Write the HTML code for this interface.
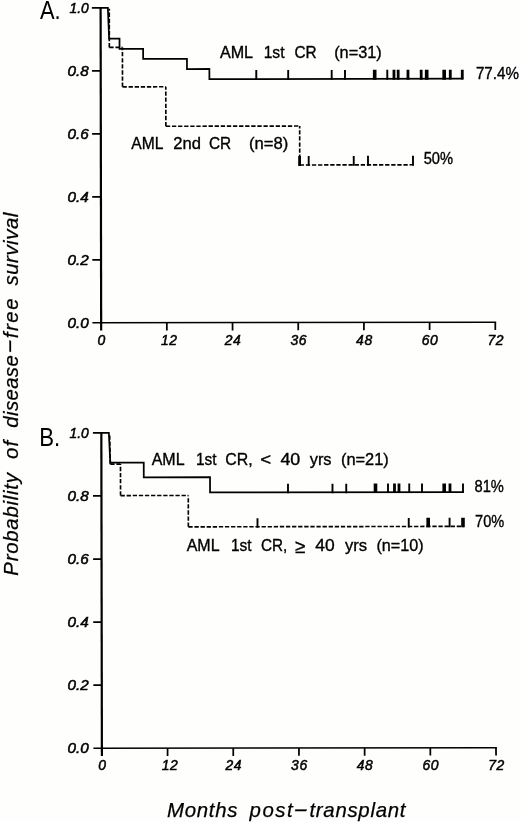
<!DOCTYPE html>
<html lang="en"><head><meta charset="utf-8"><title>Disease-free survival</title>
<style>
html,body{margin:0;padding:0;background:#fefefc;}
body{width:520px;height:822px;overflow:hidden;}
svg{display:block;}
text{font-family:"Liberation Sans",sans-serif;fill:#000;}
.tk{font-style:italic;font-size:13.9px;stroke:#000;stroke-width:0.5px;}
.xl{letter-spacing:0.6px;}
.lb{font-size:16.4px;stroke:#000;stroke-width:0.35px;}
.lB{font-size:16.6px;}
.pc{font-size:16.6px;}
.ttl{font-style:italic;font-size:20.4px;stroke:#000;stroke-width:0.25px;}
.pn{font-size:25.4px;}
path{fill:none;stroke:#000;stroke-linejoin:miter;}
.ln{stroke-width:1.75;}
.xa{stroke-width:1.5;}
.ds{stroke-width:1.65;stroke-dasharray:4.3 1.8;}
.ax{stroke-width:2.2;}
.t1{stroke-width:1.9;}
.t2{stroke-width:3.6;}
.t3{stroke-width:2.8;}
</style></head><body>
<svg width="520" height="822" viewBox="0 0 520 822">
<rect width="520" height="822" fill="#fefefc"/>

<path class="ax" d="M100.61 7.05L101.16 330.40"/>
<path class="xa" d="M92.40 322.81L496.15 322.13"/>
<path class="ln" d="M91.86 7.86L100.61 7.85"/>
<text class="tk" y="12.89"><tspan x="69.50" textLength="19.20" lengthAdjust="spacingAndGlyphs">1.0</tspan></text>
<path class="ln" d="M91.97 70.85L100.72 70.84"/>
<text class="tk" y="75.88"><tspan x="67.50" textLength="21.20" lengthAdjust="spacingAndGlyphs">0.8</tspan></text>
<path class="ln" d="M92.08 133.84L100.83 133.83"/>
<text class="tk" y="138.87"><tspan x="67.50" textLength="21.20" lengthAdjust="spacingAndGlyphs">0.6</tspan></text>
<path class="ln" d="M92.19 196.83L100.94 196.82"/>
<text class="tk" y="201.86"><tspan x="67.50" textLength="21.20" lengthAdjust="spacingAndGlyphs">0.4</tspan></text>
<path class="ln" d="M92.29 259.82L101.04 259.81"/>
<text class="tk" y="264.85"><tspan x="67.50" textLength="21.20" lengthAdjust="spacingAndGlyphs">0.2</tspan></text>
<text class="tk" y="327.84"><tspan x="67.50" textLength="21.20" lengthAdjust="spacingAndGlyphs">0.0</tspan></text>
<path class="ln" d="M166.84 322.69L166.85 330.49"/>
<path class="ln" d="M232.53 322.58L232.55 330.38"/>
<path class="ln" d="M298.23 322.46L298.24 330.26"/>
<path class="ln" d="M363.92 322.35L363.93 330.15"/>
<path class="ln" d="M429.61 322.24L429.62 330.04"/>
<path class="ln" d="M495.30 322.13L495.31 329.93"/>
<text class="tk xl" x="101.65" y="345.40" text-anchor="middle">0</text>
<text class="tk xl" x="169.34" y="345.29" text-anchor="middle">12</text>
<text class="tk xl" x="233.03" y="345.18" text-anchor="middle">24</text>
<text class="tk xl" x="298.73" y="345.06" text-anchor="middle">36</text>
<text class="tk xl" x="364.42" y="344.95" text-anchor="middle">48</text>
<text class="tk xl" x="430.11" y="344.84" text-anchor="middle">60</text>
<text class="tk xl" x="495.80" y="344.73" text-anchor="middle">72</text>
<text class="pn" x="40.0" y="19.4" textLength="20.7" lengthAdjust="spacingAndGlyphs">A.</text>
<path class="ln" d="M100.61 7.85L107.86 7.84L109.12 38.66L119.52 38.65L119.53 48.81L143.13 48.77L143.15 58.93L186.95 58.85L186.97 69.01L209.37 68.97L209.39 79.13L463.19 78.70"/>
<path class="t1" d="M256.28 70.05L256.30 79.95"/>
<path class="t1" d="M288.18 70.00L288.20 79.90"/>
<path class="t1" d="M331.68 69.93L331.70 79.83"/>
<path class="t1" d="M344.98 69.90L345.00 79.80"/>
<path class="t2" d="M374.68 69.85L374.70 79.75"/>
<path class="t1" d="M387.28 69.83L387.30 79.73"/>
<path class="t3" d="M393.98 69.82L394.00 79.72"/>
<path class="t3" d="M398.18 69.81L398.20 79.71"/>
<path class="t3" d="M407.98 69.80L408.00 79.70"/>
<path class="t3" d="M421.18 69.77L421.20 79.67"/>
<path class="t2" d="M426.68 69.76L426.70 79.66"/>
<path class="t2" d="M444.18 69.73L444.20 79.63"/>
<path class="t3" d="M450.28 69.72L450.30 79.62"/>
<path class="t3" d="M462.28 69.70L462.30 79.60"/>
<path class="ds" d="M109.33 47.40L109.27 8.84" stroke-dasharray="9.5 1.9 4.1 1.9 4.1 1.9 4.1 1.9 4.1 1.9 4.1 1.9 4.1 1.9 4.1 1.9"/>
<path class="ds" d="M109.33 47.40L122.43 47.38"/>
<path class="ds" d="M122.50 86.85L122.43 47.38" stroke-dasharray="9.5 1.9 4.1 1.9 4.1 1.9 4.1 1.9 4.1 1.9 4.1 1.9 4.1 1.9 4.1 1.9"/>
<path class="ds" d="M122.50 86.85L165.80 86.78"/>
<path class="ds" d="M165.87 126.27L165.80 86.78" stroke-dasharray="9.5 1.9 4.1 1.9 4.1 1.9 4.1 1.9 4.1 1.9 4.1 1.9 4.1 1.9 4.1 1.9"/>
<path class="ds" d="M165.87 126.27L299.67 126.04"/>
<path class="ds" d="M299.73 164.99L299.67 126.04" stroke-dasharray="9.5 1.9 4.1 1.9 4.1 1.9 4.1 1.9 4.1 1.9 4.1 1.9 4.1 1.9 4.1 1.9"/>
<path class="ds" d="M299.73 164.99L413.53 164.79"/>
<path class="t3" d="M299.58 155.99L299.60 165.89"/>
<path class="t1" d="M308.68 155.97L308.70 165.87"/>
<path class="t1" d="M353.73 155.90L353.75 165.80"/>
<path class="t1" d="M367.98 155.87L368.00 165.77"/>
<path class="t1" d="M412.98 155.79L413.00 165.69"/>
<text class="lb" y="57.9"><tspan x="219.90" textLength="32.60" lengthAdjust="spacingAndGlyphs">AML</tspan> <tspan x="263.70" textLength="20.80" lengthAdjust="spacingAndGlyphs">1st</tspan> <tspan x="294.40" textLength="22.20" lengthAdjust="spacingAndGlyphs">CR</tspan> <tspan x="334.20" textLength="47.60" lengthAdjust="spacingAndGlyphs">(n=31)</tspan></text>
<text class="lb pc" y="79.1"><tspan x="475.90" textLength="43.00" lengthAdjust="spacingAndGlyphs">77.4%</tspan></text>
<text class="lb" y="148.9"><tspan x="131.30" textLength="31.50" lengthAdjust="spacingAndGlyphs">AML</tspan> <tspan x="173.20" textLength="27.70" lengthAdjust="spacingAndGlyphs">2nd</tspan> <tspan x="208.90" textLength="22.20" lengthAdjust="spacingAndGlyphs">CR</tspan> <tspan x="249.00" textLength="39.30" lengthAdjust="spacingAndGlyphs">(n=8)</tspan></text>
<text class="lb pc" y="164.2"><tspan x="423.70" font-size="15.6" textLength="29.40" lengthAdjust="spacingAndGlyphs">50%</tspan></text>
<path class="ax" d="M101.34 432.00L101.89 755.90"/>
<path class="xa" d="M93.42 748.31L496.87 747.63"/>
<path class="ln" d="M92.89 432.81L101.34 432.80"/>
<text class="tk" y="437.84"><tspan x="69.50" textLength="19.20" lengthAdjust="spacingAndGlyphs">1.0</tspan></text>
<path class="ln" d="M92.99 495.91L101.44 495.90"/>
<text class="tk" y="500.94"><tspan x="67.50" textLength="21.20" lengthAdjust="spacingAndGlyphs">0.8</tspan></text>
<path class="ln" d="M93.10 559.01L101.55 559.00"/>
<text class="tk" y="564.04"><tspan x="67.50" textLength="21.20" lengthAdjust="spacingAndGlyphs">0.6</tspan></text>
<path class="ln" d="M93.21 622.11L101.66 622.10"/>
<text class="tk" y="627.14"><tspan x="67.50" textLength="21.20" lengthAdjust="spacingAndGlyphs">0.4</tspan></text>
<path class="ln" d="M93.32 685.21L101.77 685.20"/>
<text class="tk" y="690.24"><tspan x="67.50" textLength="21.20" lengthAdjust="spacingAndGlyphs">0.2</tspan></text>
<text class="tk" y="753.34"><tspan x="67.50" textLength="21.20" lengthAdjust="spacingAndGlyphs">0.0</tspan></text>
<path class="ln" d="M167.57 748.19L167.58 755.99"/>
<path class="ln" d="M233.26 748.08L233.27 755.88"/>
<path class="ln" d="M298.95 747.96L298.96 755.76"/>
<path class="ln" d="M364.64 747.85L364.65 755.65"/>
<path class="ln" d="M430.33 747.74L430.34 755.54"/>
<path class="ln" d="M496.02 747.63L496.04 755.43"/>
<text class="tk xl" x="102.37" y="770.30" text-anchor="middle">0</text>
<text class="tk xl" x="170.07" y="770.19" text-anchor="middle">12</text>
<text class="tk xl" x="233.76" y="770.08" text-anchor="middle">24</text>
<text class="tk xl" x="299.45" y="769.96" text-anchor="middle">36</text>
<text class="tk xl" x="365.14" y="769.85" text-anchor="middle">48</text>
<text class="tk xl" x="430.83" y="769.74" text-anchor="middle">60</text>
<text class="tk xl" x="496.52" y="769.63" text-anchor="middle">72</text>
<text class="pn" x="39.2" y="445.5" textLength="21.0" lengthAdjust="spacingAndGlyphs">B.</text>
<path class="ln" d="M101.34 432.80L108.84 432.79L110.29 462.68L143.74 462.63L143.76 477.30L210.01 477.19L210.04 492.46L463.89 492.03"/>
<path class="t1" d="M287.99 483.73L288.00 493.23"/>
<path class="t1" d="M332.49 483.65L332.50 493.15"/>
<path class="t1" d="M346.24 483.63L346.25 493.13"/>
<path class="t2" d="M375.49 483.58L375.50 493.08"/>
<path class="t1" d="M387.99 483.56L388.00 493.06"/>
<path class="t3" d="M394.49 483.55L394.50 493.05"/>
<path class="t3" d="M398.99 483.54L399.00 493.04"/>
<path class="t1" d="M409.24 483.52L409.25 493.02"/>
<path class="t1" d="M421.99 483.50L422.00 493.00"/>
<path class="t2" d="M444.19 483.46L444.20 492.96"/>
<path class="t3" d="M449.99 483.45L450.00 492.95"/>
<path class="t1" d="M462.99 483.43L463.00 492.93"/>
<path class="ds" d="M110.29 464.13L109.64 433.79" stroke-dasharray="9.5 1.9 4.1 1.9 4.1 1.9 4.1 1.9 4.1 1.9 4.1 1.9 4.1 1.9 4.1 1.9"/>
<path class="ds" d="M110.29 464.13L120.49 464.12"/>
<path class="ds" d="M120.54 495.57L120.49 464.12" stroke-dasharray="9.5 1.9 4.1 1.9 4.1 1.9 4.1 1.9 4.1 1.9 4.1 1.9 4.1 1.9 4.1 1.9"/>
<path class="ds" d="M120.54 495.57L188.29 495.45"/>
<path class="ds" d="M188.35 526.85L188.29 495.45" stroke-dasharray="9.5 1.9 4.1 1.9 4.1 1.9 4.1 1.9 4.1 1.9 4.1 1.9 4.1 1.9 4.1 1.9"/>
<path class="ds" d="M188.35 526.85L463.95 526.38"/>
<path class="t1" d="M257.49 518.13L257.50 527.63"/>
<path class="t1" d="M408.74 517.88L408.75 527.38"/>
<path class="t2" d="M428.19 517.84L428.20 527.34"/>
<path class="t1" d="M449.59 517.81L449.60 527.31"/>
<path class="t2" d="M462.99 517.79L463.00 527.29"/>
<text class="lb lB" y="465.1"><tspan x="151.70" textLength="32.35" lengthAdjust="spacingAndGlyphs">AML</tspan> <tspan x="195.95" textLength="20.60" lengthAdjust="spacingAndGlyphs">1st</tspan> <tspan x="225.20" textLength="27.40" lengthAdjust="spacingAndGlyphs">CR,</tspan> <tspan x="260.20" textLength="10.90" lengthAdjust="spacingAndGlyphs">&lt;</tspan> <tspan x="280.45" textLength="19.85" lengthAdjust="spacingAndGlyphs">40</tspan> <tspan x="309.70" textLength="21.85" lengthAdjust="spacingAndGlyphs">yrs</tspan> <tspan x="340.95" textLength="47.85" lengthAdjust="spacingAndGlyphs">(n=21)</tspan></text>
<text class="lb pc" y="491.8"><tspan x="474.50" textLength="29.40" lengthAdjust="spacingAndGlyphs">81%</tspan></text>
<text class="lb lB" y="550.8"><tspan x="186.70" textLength="32.35" lengthAdjust="spacingAndGlyphs">AML</tspan> <tspan x="230.95" textLength="20.60" lengthAdjust="spacingAndGlyphs">1st</tspan> <tspan x="260.95" textLength="26.35" lengthAdjust="spacingAndGlyphs">CR,</tspan> <tspan x="295.10" y="553.0" font-size="19" textLength="10.30" lengthAdjust="spacingAndGlyphs">≥</tspan> <tspan x="315.30" y="550.8" textLength="19.40" lengthAdjust="spacingAndGlyphs">40</tspan> <tspan x="344.90" textLength="22.10" lengthAdjust="spacingAndGlyphs">yrs</tspan> <tspan x="376.40" textLength="47.20" lengthAdjust="spacingAndGlyphs">(n=10)</tspan></text>
<text class="lb pc" y="527.0"><tspan x="475.10" textLength="29.20" lengthAdjust="spacingAndGlyphs">70%</tspan></text>
<text class="ttl" y="817"><tspan x="167.00" textLength="70.40" lengthAdjust="spacing">Months</tspan> <tspan x="249.60" textLength="43.00" lengthAdjust="spacing">post</tspan><tspan x="292.70" y="815.9" textLength="14.90" lengthAdjust="spacingAndGlyphs">-</tspan><tspan x="309.40" y="817" textLength="96.10" lengthAdjust="spacing">transplant</tspan></text>
<text class="ttl" y="0" transform="translate(18.2 575) rotate(-90)"><tspan x="-0.70" textLength="102.60" lengthAdjust="spacing">Probability</tspan> <tspan x="115.90" textLength="18.40" lengthAdjust="spacing">of</tspan> <tspan x="147.30" textLength="72.50" lengthAdjust="spacing">disease</tspan><tspan x="220.80" y="-1.8" textLength="14.80" lengthAdjust="spacingAndGlyphs">-</tspan><tspan x="236.70" y="0" textLength="39.90" lengthAdjust="spacing">free</tspan> <tspan x="289.50" textLength="72.80" lengthAdjust="spacing">survival</tspan></text>
</svg></body></html>
